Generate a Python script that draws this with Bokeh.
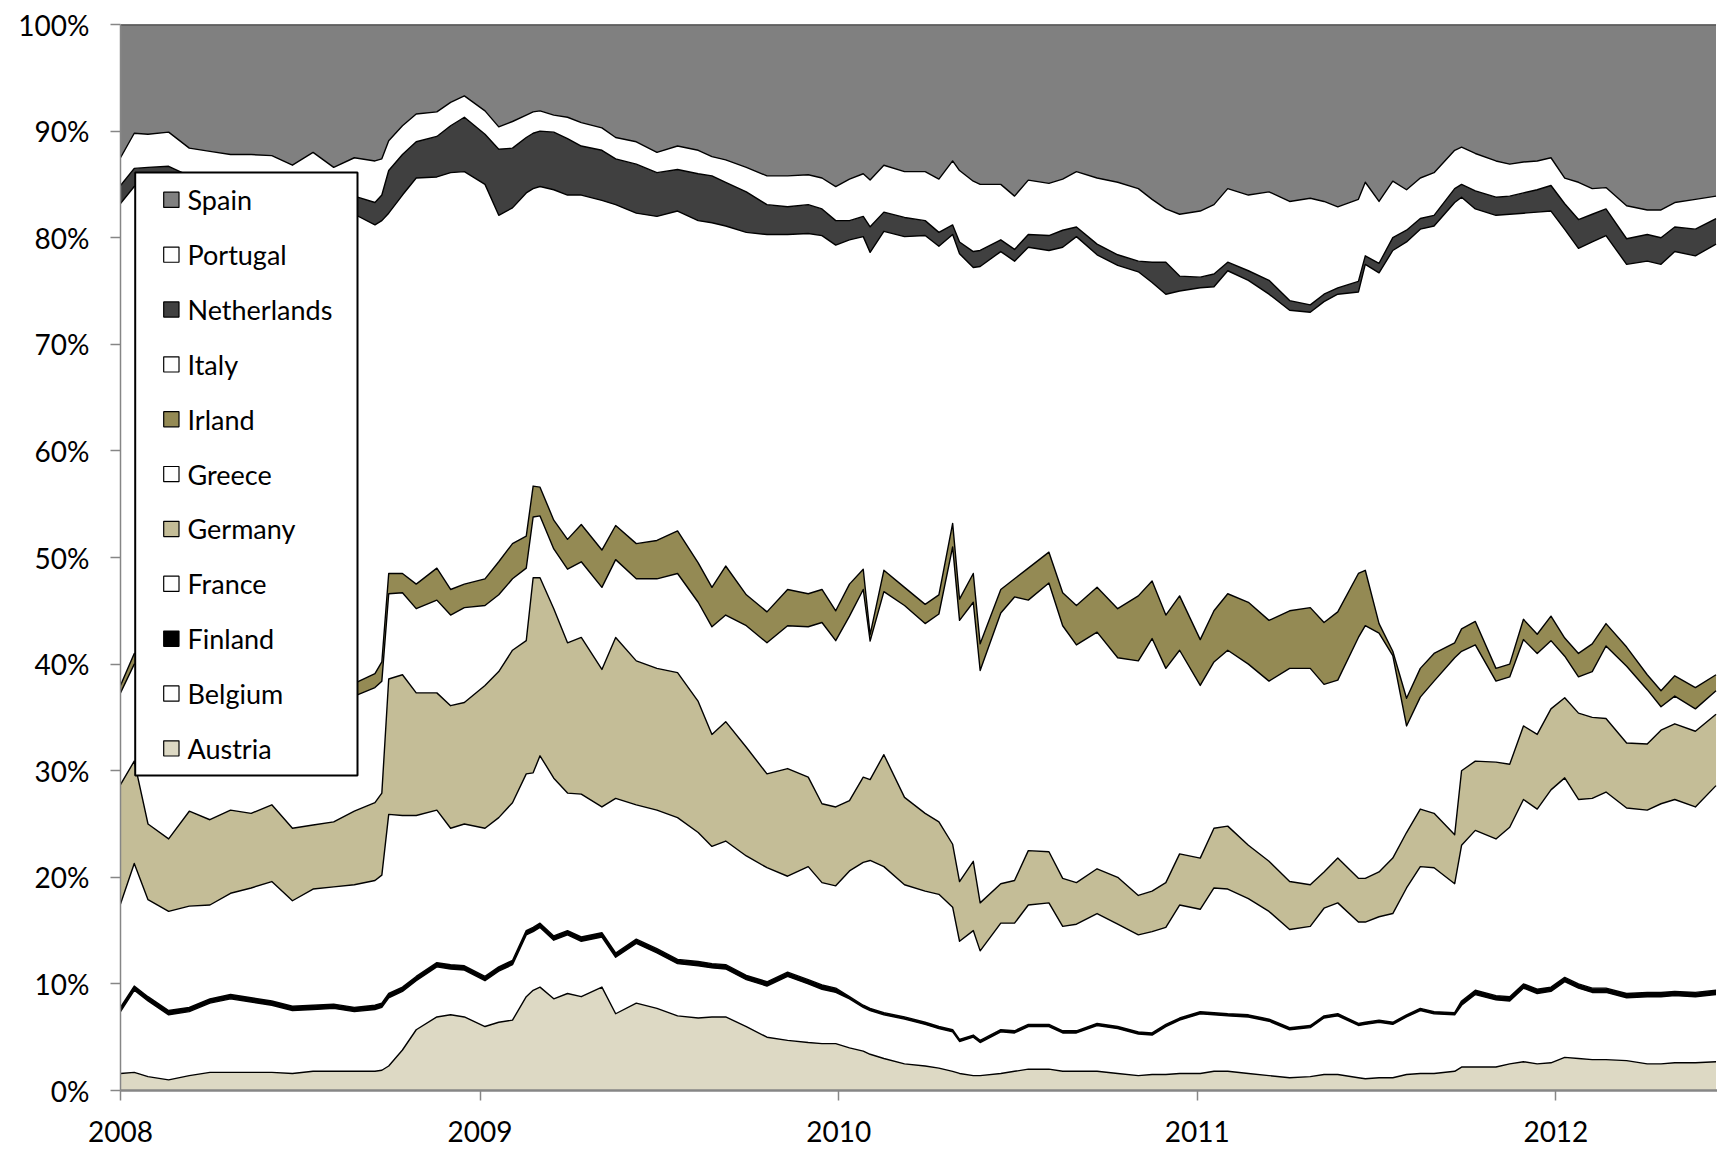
import numpy as np
from datetime import date
from bokeh.plotting import figure
from bokeh.models import (ColumnDataSource, Range1d, FixedTicker, PrintfTickFormatter,
                          BoxAnnotation, Label)
from bokeh.embed import file_html
from bokeh.resources import INLINE

# weeks since 2008-01-01
weeks = [0, 2, 4, 7, 10, 13, 16, 19, 22, 25, 28, 31, 34, 37, 38, 39, 41, 43, 46, 48,
         50, 53, 55, 57, 59, 60, 61, 63, 65, 67, 70, 72, 75, 78, 81, 84, 86, 88, 91, 94,
         97, 100, 102, 104, 106, 108, 109, 111, 114, 117, 119, 121, 122, 124, 125, 128, 130, 132, 135, 137,
         139, 142, 145, 148, 150, 152, 154, 157, 159, 161, 164, 167, 170, 173, 175, 177, 180, 181, 183, 185,
         187, 189, 191, 194, 195, 197, 200, 202, 204, 206, 208, 210, 212, 214, 216, 219, 222, 224, 226, 229,
         232]

austria = [1.6, 1.7, 1.3, 1.0, 1.4, 1.7, 1.7, 1.7, 1.7, 1.6, 1.8, 1.8, 1.8, 1.8, 1.9, 2.3, 3.8, 5.7, 6.9, 7.1,
           6.9, 6.0, 6.4, 6.6, 8.8, 9.4, 9.7, 8.6, 9.1, 8.8, 9.7, 7.2, 8.2, 7.7, 7.0, 6.8, 6.9, 6.9, 6.0, 5.0,
           4.7, 4.5, 4.4, 4.4, 4.0, 3.7, 3.4, 3.0, 2.5, 2.3, 2.1, 1.8, 1.6, 1.4, 1.4, 1.6, 1.8, 2.0, 2.0, 1.8,
           1.8, 1.8, 1.6, 1.4, 1.5, 1.5, 1.6, 1.6, 1.8, 1.8, 1.6, 1.4, 1.2, 1.3, 1.5, 1.5, 1.2, 1.1, 1.2, 1.2,
           1.5, 1.6, 1.6, 1.8, 2.2, 2.2, 2.2, 2.5, 2.7, 2.5, 2.6, 3.1, 3.0, 2.9, 2.9, 2.8, 2.5, 2.5, 2.6, 2.6,
           2.7]
belgium = [5.8, 7.7, 7.1, 6.1, 6.0, 6.5, 6.9, 6.6, 6.3, 5.9, 5.8, 5.9, 5.6, 5.8, 5.9, 6.4, 5.5, 4.6, 4.7, 4.3,
           4.4, 4.3, 4.8, 5.2, 5.8, 5.5, 5.6, 5.5, 5.5, 5.2, 4.7, 5.3, 5.6, 5.2, 4.9, 4.9, 4.6, 4.5, 4.4, 4.8,
           6.0, 5.5, 5.1, 4.8, 4.6, 4.1, 4.1, 4.1, 4.2, 3.9, 3.7, 3.7, 3.0, 3.6, 3.1, 3.9, 3.6, 4.0, 4.0, 3.6,
           3.6, 4.3, 4.2, 3.9, 3.7, 4.5, 5.0, 5.6, 5.3, 5.2, 5.3, 5.1, 4.5, 4.6, 5.3, 5.5, 4.9, 5.1, 5.2, 5.0,
           5.4, 5.9, 5.6, 5.3, 5.8, 6.8, 6.3, 5.9, 6.9, 6.6, 6.7, 7.1, 6.6, 6.3, 6.3, 5.9, 6.3, 6.3, 6.3, 6.2,
           6.3]
finland = [0.4, 0.4, 0.4, 0.4, 0.4, 0.4, 0.4, 0.4, 0.4, 0.4, 0.4, 0.4, 0.4, 0.4, 0.4, 0.4, 0.4, 0.4, 0.4, 0.4,
           0.4, 0.4, 0.4, 0.4, 0.4, 0.4, 0.4, 0.4, 0.4, 0.4, 0.4, 0.4, 0.4, 0.4, 0.4, 0.4, 0.4, 0.4, 0.4, 0.4,
           0.4, 0.4, 0.4, 0.4, 0.2, 0.2, 0.2, 0.2, 0.2, 0.2, 0.2, 0.2, 0.2, 0.2, 0.2, 0.2, 0.2, 0.2, 0.2, 0.2,
           0.2, 0.2, 0.2, 0.2, 0.2, 0.2, 0.2, 0.2, 0.2, 0.2, 0.2, 0.2, 0.2, 0.2, 0.2, 0.2, 0.2, 0.2, 0.2, 0.2,
           0.2, 0.2, 0.2, 0.2, 0.4, 0.4, 0.4, 0.4, 0.4, 0.4, 0.4, 0.4, 0.4, 0.4, 0.4, 0.4, 0.4, 0.4, 0.4, 0.4,
           0.4]
france = [9.7, 11.5, 9.1, 9.3, 9.5, 8.8, 9.5, 10.3, 11.2, 9.9, 10.9, 11.0, 11.5, 11.7, 12.0, 16.8, 16.1, 15.1, 14.3, 12.8,
          13.3, 13.9, 14.0, 14.8, 14.7, 14.5, 15.7, 14.8, 12.9, 13.4, 11.8, 14.5, 12.6, 13.0, 13.3, 12.1, 11.0, 11.6, 11.2, 10.7,
          9.0, 10.6, 9.6, 9.6, 11.8, 13.4, 13.9, 13.7, 12.4, 12.3, 12.4, 11.5, 9.2, 9.8, 8.4, 10.0, 10.1, 11.2, 11.4, 9.8,
          10.0, 10.3, 9.6, 9.1, 9.5, 9.1, 10.6, 9.6, 11.7, 11.7, 10.9, 10.1, 9.2, 9.3, 10.1, 10.4, 9.5, 9.4, 9.7, 10.2,
          11.9, 13.3, 13.5, 12.1, 14.6, 15.0, 14.7, 15.9, 17.3, 16.9, 18.5, 18.7, 17.3, 17.8, 18.4, 17.4, 17.1, 17.7, 18.0, 17.4,
          19.2]
germany = [11.2, 9.6, 7.1, 6.8, 8.9, 8.0, 7.8, 7.0, 7.2, 6.8, 6.0, 6.1, 6.9, 7.3, 7.7, 12.7, 13.2, 11.5, 11.0, 11.5,
           11.4, 13.4, 13.7, 14.3, 12.5, 18.3, 16.7, 15.9, 14.1, 14.7, 12.9, 15.1, 13.5, 13.3, 13.6, 12.3, 10.5, 11.2, 10.2, 8.8,
           10.1, 8.4, 7.4, 7.4, 6.6, 8.0, 7.6, 10.5, 8.2, 7.3, 6.8, 5.9, 5.6, 6.5, 4.5, 3.7, 4.0, 5.1, 4.8, 4.5,
           3.9, 4.2, 4.4, 3.7, 3.8, 4.2, 4.8, 4.8, 5.6, 5.9, 5.0, 4.7, 4.5, 3.9, 3.4, 4.2, 4.1, 4.1, 4.2, 5.2,
           5.2, 5.4, 5.1, 4.6, 7.0, 6.5, 7.2, 5.9, 6.9, 7.0, 7.6, 7.5, 8.1, 7.6, 6.9, 6.1, 6.2, 6.9, 7.1, 7.1,
           6.7]
greece = [8.6, 9.1, 14.5, 15.4, 12.6, 13.1, 12.0, 12.0, 11.2, 13.2, 12.6, 12.0, 10.8, 10.8, 10.5, 8.0, 7.7, 7.9, 8.7, 8.5,
          8.9, 7.5, 7.2, 6.7, 6.8, 5.7, 5.8, 5.6, 6.9, 7.1, 7.7, 7.3, 7.7, 8.4, 9.3, 9.3, 10.1, 10.0, 11.4, 12.3,
          13.4, 14.1, 17.0, 15.6, 17.3, 17.6, 13.0, 15.3, 18.0, 17.8, 19.5, 27.9, 24.5, 24.3, 21.8, 25.4, 26.6, 23.5, 25.2, 23.7,
          22.3, 22.2, 20.6, 22.0, 23.7, 20.1, 19.1, 16.2, 15.6, 16.5, 17.0, 16.9, 20.0, 20.3, 17.6, 16.7, 22.6, 23.7, 22.4, 19.0,
          10.0, 10.5, 12.4, 16.6, 11.2, 10.9, 7.6, 8.2, 8.1, 7.6, 6.4, 3.9, 3.4, 4.3, 6.8, 7.2, 5.1, 2.2, 2.6, 2.1,
          2.2]
irland = [0.7, 1.0, 1.0, 1.0, 1.0, 1.0, 1.0, 1.0, 1.0, 1.0, 1.0, 1.0, 1.2, 1.3, 1.8, 1.9, 1.8, 2.3, 3.0, 2.4,
          2.2, 2.5, 3.1, 3.3, 3.0, 2.9, 2.7, 2.7, 2.8, 3.5, 3.5, 3.2, 3.3, 3.6, 4.0, 3.7, 3.7, 4.6, 2.9, 2.9,
          3.4, 3.1, 3.1, 2.8, 3.0, 1.9, 0.6, 2.0, 1.7, 1.8, 1.8, 2.2, 2.0, 2.7, 2.5, 2.2, 1.7, 3.0, 2.9, 3.1,
          3.7, 4.2, 4.6, 6.1, 5.4, 5.0, 5.1, 4.3, 4.8, 5.3, 5.8, 5.7, 5.4, 5.7, 5.8, 6.4, 6.0, 5.2, 0.9, 0.4,
          2.6, 2.7, 2.6, 1.4, 2.1, 2.2, 1.2, 1.2, 1.9, 1.8, 2.3, 1.7, 2.2, 2.6, 2.1, 1.8, 1.4, 1.5, 1.9, 2.0,
          1.5]
italy = [45.2, 43.8, 44.5, 44.8, 44.7, 44.8, 44.7, 45.0, 44.8, 44.7, 44.5, 44.3, 44.0, 42.1, 41.4, 33.8, 35.5, 38.1, 36.7, 39.1,
         38.7, 37.0, 32.5, 31.5, 32.2, 27.9, 28.2, 31.0, 32.3, 30.9, 32.8, 30.1, 31.0, 30.4, 30.0, 32.1, 34.2, 31.9, 34.0, 35.4,
         33.3, 33.8, 33.2, 34.3, 32.3, 31.2, 35.9, 31.8, 32.9, 34.6, 32.7, 27.1, 32.4, 28.7, 35.4, 31.7, 29.8, 30.1, 28.3, 32.4,
         34.6, 31.2, 32.2, 30.4, 28.0, 30.1, 28.6, 33.0, 30.4, 30.3, 30.2, 30.6, 28.2, 27.7, 30.1, 29.8, 26.4, 28.7, 32.9, 37.6,
         42.8, 41.2, 40.1, 41.3, 40.5, 38.7, 42.5, 42.2, 38.1, 39.6, 38.0, 38.3, 38.0, 37.7, 36.4, 35.9, 38.8, 40.0, 39.8, 40.5,
         40.4]
netherlands = [1.7, 1.7, 1.6, 1.9, 1.3, 1.3, 1.5, 1.5, 1.5, 1.5, 1.7, 1.8, 1.7, 2.1, 2.4, 4.0, 3.8, 3.4, 3.8, 4.4,
               5.1, 4.7, 6.2, 5.6, 5.2, 5.2, 5.2, 5.4, 5.3, 4.6, 4.7, 4.3, 4.6, 4.1, 3.9, 4.4, 4.4, 4.1, 3.8, 2.8,
               2.6, 2.7, 2.5, 2.3, 1.8, 1.9, 2.4, 1.8, 1.8, 1.4, 1.3, 0.9, 1.1, 1.5, 1.5, 1.1, 1.1, 1.2, 1.4, 1.6,
               0.9, 1.0, 1.0, 1.0, 1.9, 3.0, 1.4, 1.0, 1.2, 0.8, 0.9, 1.3, 0.9, 0.7, 0.7, 0.6, 1.0, 0.8, 0.9, 1.2,
               1.1, 1.0, 1.0, 1.3, 1.2, 1.7, 1.7, 1.7, 1.9, 2.1, 2.4, 2.4, 2.7, 2.6, 2.5, 2.4, 2.5, 2.5, 2.3, 2.5,
               2.4]
portugal = [2.6, 3.3, 3.1, 3.2, 2.6, 2.5, 2.3, 2.3, 2.4, 1.8, 3.3, 2.3, 3.6, 3.9, 3.4, 2.8, 2.7, 2.6, 2.3, 2.2,
            2.0, 2.2, 2.1, 2.5, 2.1, 2.0, 1.9, 1.6, 2.0, 2.2, 2.1, 2.0, 2.1, 1.9, 2.2, 2.2, 1.8, 2.1, 2.3, 2.7,
            2.9, 2.8, 2.9, 3.2, 3.9, 4.0, 4.4, 4.4, 4.3, 4.6, 5.0, 6.0, 6.7, 6.6, 6.2, 5.2, 5.0, 5.1, 4.9, 4.8,
            5.2, 6.2, 6.8, 6.8, 5.9, 5.0, 5.8, 6.2, 6.5, 6.9, 7.1, 8.3, 9.3, 10.0, 8.7, 7.6, 7.7, 6.9, 5.8, 5.3,
            3.8, 3.8, 4.0, 3.6, 3.5, 3.5, 3.4, 3.0, 2.9, 2.7, 2.6, 2.4, 3.5, 2.4, 2.0, 3.1, 2.3, 2.6, 2.3, 2.8,
            2.1]
spain = [12.5, 10.2, 10.3, 10.1, 11.6, 11.9, 12.2, 12.2, 12.3, 13.2, 12.0, 13.4, 12.5, 12.8, 12.6, 10.9, 9.5, 8.4, 8.2, 7.3,
         6.7, 8.1, 9.6, 9.1, 8.5, 8.2, 8.1, 8.5, 8.7, 9.2, 9.7, 10.6, 11.0, 12.0, 11.4, 11.8, 12.4, 12.7, 13.4, 14.2,
         14.2, 14.1, 14.4, 15.2, 14.5, 14.0, 14.6, 13.2, 13.8, 13.8, 14.5, 12.8, 13.7, 14.7, 15.0, 15.0, 16.1, 14.6, 14.9, 14.5,
         13.8, 14.4, 14.8, 15.4, 16.4, 17.3, 17.8, 17.5, 16.9, 15.4, 16.0, 15.7, 16.6, 16.3, 16.6, 17.1, 16.4, 14.8, 16.6, 14.7,
         15.5, 14.4, 13.9, 11.8, 11.5, 12.1, 12.8, 13.1, 12.9, 12.8, 12.5, 14.4, 14.8, 15.4, 15.3, 17.0, 17.4, 17.4, 16.7, 16.4,
         16.1]

countries = ["Austria", "Belgium", "Finland", "France", "Germany", "Greece",
             "Irland", "Italy", "Netherlands", "Portugal", "Spain"]
colors = ["#DDD9C4", "#FFFFFF", "#000000", "#FFFFFF", "#C4BD97", "#FFFFFF",
          "#948A54", "#FFFFFF", "#404040", "#FFFFFF", "#808080"]
years = ["2008", "2009", "2010", "2011", "2012"]

values = np.array([austria, belgium, finland, france, germany, greece, irland,
                   italy, netherlands, portugal, spain], dtype=float)
shares = values / values.sum(axis=0) * 100.0          # 100 % stacked
x = np.array(weeks, dtype=float) * 7.0                  # days since 2008-01-01
data = {"x": x}
for name, row in zip(countries, shares):
    data[name] = row
source = ColumnDataSource(data)

origin = date(2008, 1, 1)
year_days = [(date(int(y), 1, 1) - origin).days for y in years]

p = figure(width=1717, height=1149, output_backend="svg", toolbar_location=None,
           x_range=Range1d(0, 1625.5), y_range=Range1d(0, 100),
           min_border_left=120, min_border_right=0, min_border_top=24,
           min_border_bottom=59)
p.outline_line_color = None
p.xgrid.visible = False
p.ygrid.visible = False
p.background_fill_color = "white"

p.varea_stack(stackers=countries, x="x", color=colors, source=source)
tops = np.cumsum(shares, axis=0)
for row in tops:
    p.line(x, row, line_color="black", line_width=1.4, line_join="round")

FONT = "Lato"
for ax in (p.xaxis[0], p.yaxis[0]):
    ax.axis_line_color = "#868686"
    ax.major_tick_line_color = "#868686"
    ax.major_tick_out = 10
    ax.major_tick_in = 0
    ax.minor_tick_line_color = None
    ax.major_label_text_font = FONT
    ax.major_label_text_font_size = "28px"
    ax.major_label_text_color = "black"

p.yaxis.ticker = FixedTicker(ticks=list(range(0, 101, 10)))
p.yaxis.formatter = PrintfTickFormatter(format="%d%%")
p.yaxis.axis_line_width = 1.5
p.yaxis.major_tick_line_width = 1.5
p.yaxis.major_label_standoff = 21

p.xaxis.ticker = FixedTicker(ticks=year_days)
p.xaxis.major_label_overrides = {d: y for d, y in zip(year_days, years)}
p.xaxis.axis_line_width = 2.5
p.xaxis.major_tick_line_width = 1.5
p.xaxis.major_label_text_line_height = 1.0
p.xaxis.major_label_standoff = 20

# legend (screen units, relative to the plot frame)
box = BoxAnnotation(left=14.7, right=237, bottom=315, top=918,
                    left_units="screen", right_units="screen",
                    bottom_units="screen", top_units="screen",
                    fill_color="white", fill_alpha=1.0,
                    line_color="black", line_alpha=1.0, line_width=2)
p.add_layout(box)
for i, (name, col) in enumerate(zip(countries[::-1], colors[::-1])):
    cy = 890.7 - 54.86 * i
    sq = BoxAnnotation(left=43.2, right=58.5, bottom=cy - 7.6, top=cy + 7.6,
                       left_units="screen", right_units="screen",
                       bottom_units="screen", top_units="screen",
                       fill_color=col, fill_alpha=1.0,
                       line_color="black", line_alpha=1.0, line_width=1.2)
    p.add_layout(sq)
    p.add_layout(Label(x=67, y=cy, x_units="screen", y_units="screen", text=name,
                       text_font=FONT, text_font_size="27px", text_color="black",
                       text_baseline="middle", text_align="left"))

open("out.html", "w").write(file_html(p, INLINE))
